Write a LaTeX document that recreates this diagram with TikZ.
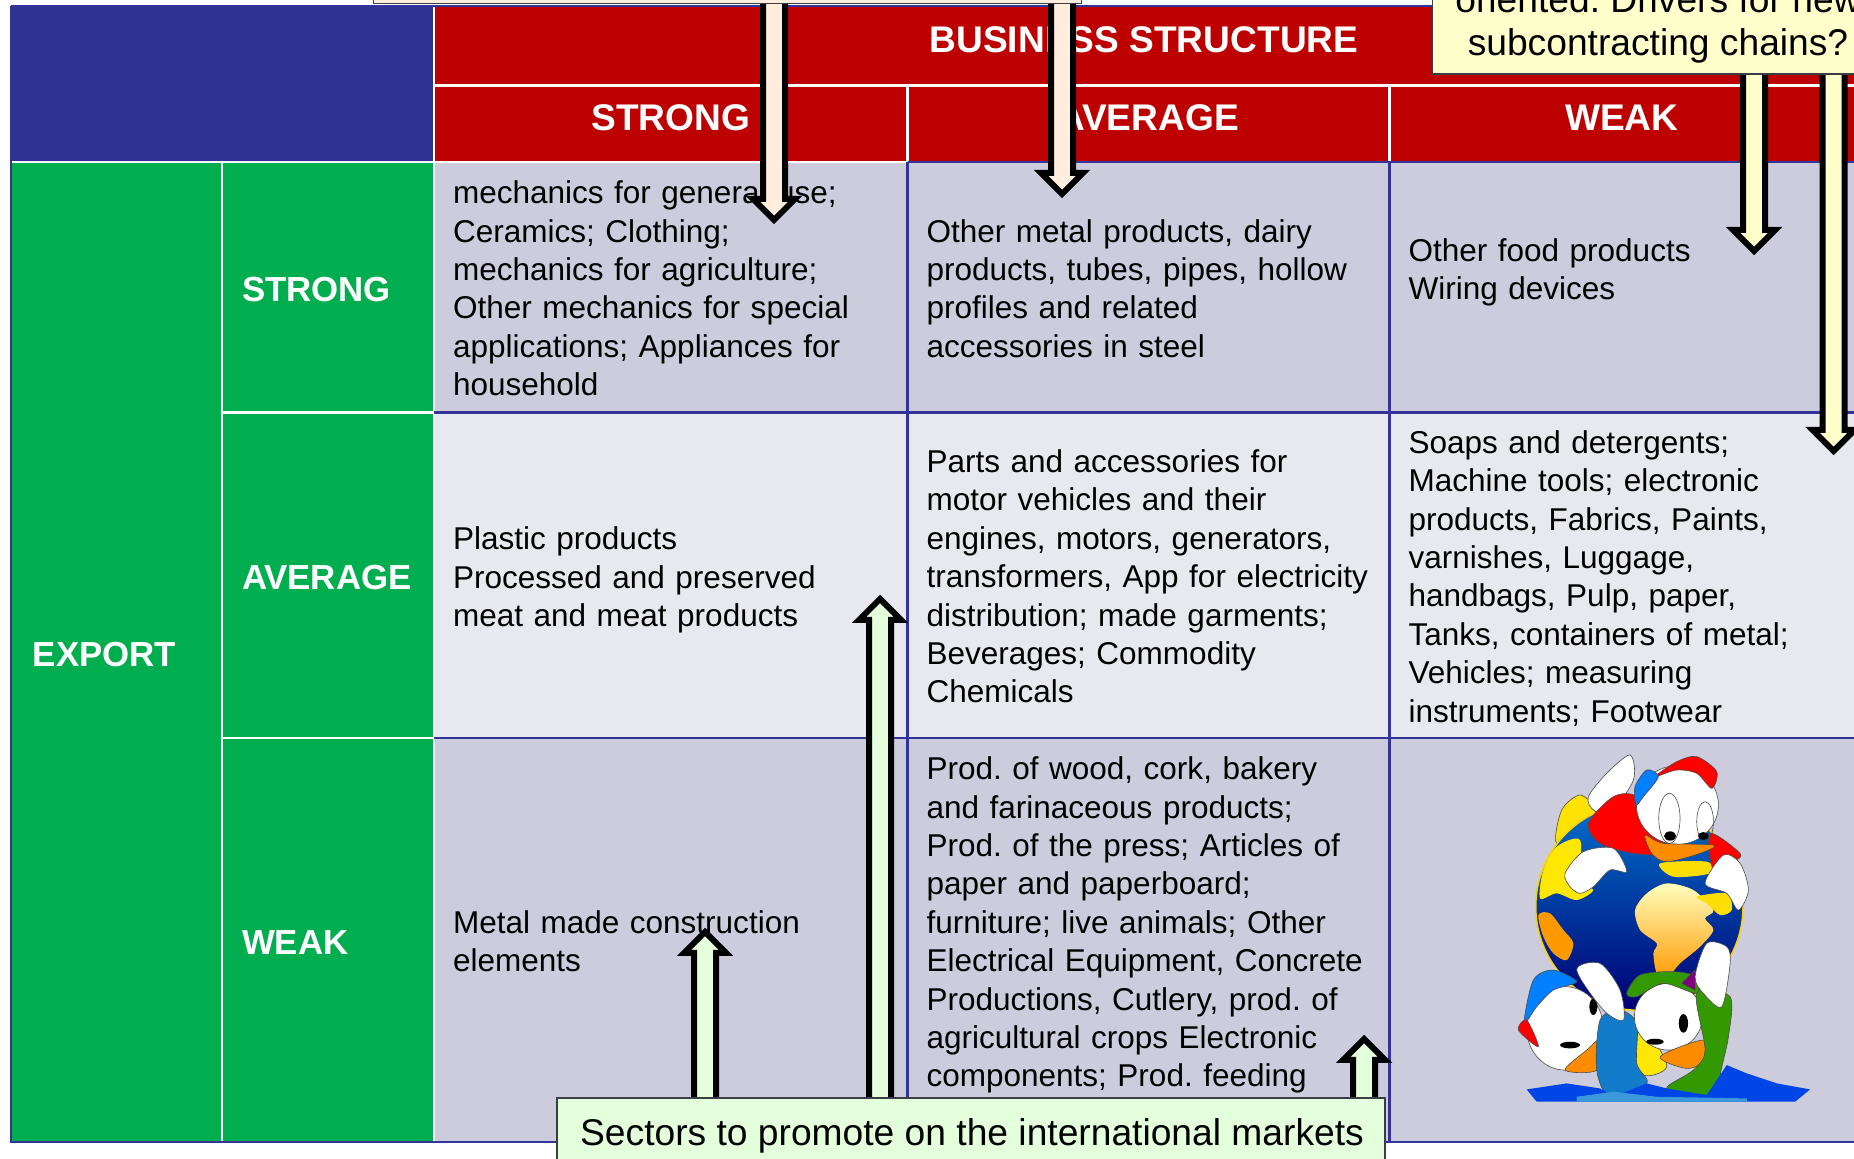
\documentclass[tikz,border=0pt]{standalone}
\usepackage{fontspec}
\setmainfont{Liberation Sans}
\usetikzlibrary{positioning,calc}
\definecolor{navy}{HTML}{2E3192}
\definecolor{rulenavy}{HTML}{333399}
\definecolor{headred}{HTML}{BD0000}
\definecolor{exportgreen}{HTML}{00AE4F}
\definecolor{rowdark}{HTML}{CDCCDD}
\definecolor{rowlight}{HTML}{E8E9EF}
\definecolor{notetan}{HTML}{FFEEDD}
\definecolor{noteyellow}{HTML}{FFFFCC}
\definecolor{notegreen}{HTML}{E3FFDB}
\pgfdeclarelayer{front}
\pgfsetlayers{main,front}
\tikzset{
        gridbox/.style 2 args={
		minimum width={#1*0.5pt},
		minimum height={#2*0.5pt},
		inner sep=0pt,
		outer sep=0pt,
	  },
        headcell/.style 2 args={gridbox={#1}{#2}, fill=headred, text=white, text height=13.3pt, text depth=6.2pt, font=\fontsize{18.55}{22}\selectfont\bfseries},
        sidecell/.style 2 args={gridbox={#1}{#2}, fill=exportgreen, text=white, inner xsep=10pt, text width={(#1-40)*0.5pt}, text height=14.4pt, text depth=0pt, align=left, font=\fontsize{17.4}{21}\selectfont\bfseries},
        datacell/.style n args={3}{gridbox={#1}{#2}, fill=#3, inner xsep=9.5pt, text width={(#1-38)*0.5pt}, align=left, font=\fontsize{15.76}{19.2}\selectfont,
		execute at begin node={\rule{0pt}{18.2pt}}, execute at end node={\strut}},
        note/.style={draw=black!85!cyan, line width=0.8pt, inner sep=0pt, outer sep=0pt},
        notetext/.style={font=\fontsize{18.6}{21.5}\selectfont, align=center, inner sep=0pt, anchor=base},
        blueline/.style={draw=rulenavy, line width=1.4pt},
        whiteline/.style={draw=white, line width=1.4pt},
        blockdown/.style={draw=black, line width=3pt, fill=#1, to path={
		-- ++(-11,0) -- ($(\tikztotarget)+(-11,-21)$) -- ($(\tikztotarget)+(-21,-21)$) -- (\tikztotarget)
		-- ($(\tikztotarget)+(21,-21)$) -- ($(\tikztotarget)+(11,-21)$) -- ($(\tikztostart)+(11,0)$) -- cycle}},
        blockup/.style={draw=black, line width=3pt, fill=#1, to path={
		-- ++(-11,0) -- ($(\tikztotarget)+(-11,21)$) -- ($(\tikztotarget)+(-21,21)$) -- (\tikztotarget)
		-- ($(\tikztotarget)+(21,21)$) -- ($(\tikztotarget)+(11,21)$) -- ($(\tikztostart)+(11,0)$) -- cycle}},
        duckpart/.style={draw=black!70, line width=0.3pt, fill=#1},
    }

\begin{document}
\frenchspacing
\begin{tikzpicture}[x=0.5pt, y=-0.5pt, node distance=0pt]
    \useasboundingbox (0,0) rectangle (1854,1159);
    \clip (0,0) rectangle (1854,1159);

    % header
    \node [gridbox={423}{156}, fill=navy, anchor=north west] (corner) at (11,6) {};
    \node [headcell={1420}{79.5}, anchor=north west] (business) at (corner.north east) {BUSINESS STRUCTURE};
    \node [headcell={473.5}{76.5}, anchor=north west] (colstrong) at (business.south west) {STRONG};
    \node [headcell={482}{76.5}, right=of colstrong] (colaverage) {AVERAGE};
    \node [headcell={464.5}{76.5}, right=of colaverage] (colweak) {WEAK};

    % side
    \node [sidecell={211}{980}, anchor=north west] (export) at (corner.south west) {\kern1pt EXPORT};
    \node [sidecell={212}{250.5}, anchor=north west] (rowstrong) at (export.north east) {STRONG};
    \node [sidecell={212}{325.5}, below=of rowstrong] (rowaverage) {AVERAGE};
    \node [sidecell={212}{404}, below=of rowaverage] (rowweak) {WEAK};

    % first row
    \node [datacell={473.5}{250.5}{rowdark}, right=of rowstrong] (c11) {mechanics for general use;\\Ceramics; Clothing;\\mechanics for agriculture;\\Other mechanics for special\\applications; Appliances for\\household};
    \node [datacell={482}{250.5}{rowdark}, right=of c11] (c12) {Other metal products, dairy\\products, tubes, pipes, hollow\\profiles and related\\accessories in steel};
    \node [datacell={464.5}{250.5}{rowdark}, right=of c12] (c13) {Other food products\\Wiring devices\\~};
    % second row
    \node [datacell={473.5}{325.5}{rowlight}, below=of c11] (c21) {\rule{0pt}{18.6pt}Plastic products\\Processed and preserved\\meat and meat products};
    \node [datacell={482}{325.5}{rowlight}, right=of c21] (c22) {Parts and accessories for\\motor vehicles and their\\engines, motors, generators,\\transformers, App for electricity\\distribution; made garments;\\Beverages; Commodity\\Chemicals};
    \node [datacell={464.5}{325.5}{rowlight}, right=of c22] (c23) {Soaps and detergents;\\Machine tools; electronic\\products, Fabrics, Paints,\\varnishes, Luggage,\\handbags, Pulp, paper,\\Tanks, containers of metal;\\Vehicles; measuring\\instruments; Footwear};
    % third row
    \node [datacell={473.5}{404}{rowdark}, below=of c21] (c31) {Metal made construction\\elements};
    \node [datacell={482}{404}{rowdark}, right=of c31] (c32) {Prod. of wood, cork, bakery\\and farinaceous products;\\Prod. of the press; Articles of\\paper and paperboard;\\furniture; live animals; Other\\Electrical Equipment, Concrete\\Productions, Cutlery, prod. of\\agricultural crops Electronic\\components; Prod. feeding\\~};
    \node [datacell={464.5}{404}{rowdark}, right=of c32] (c33) {};

    % white rules
    \draw [whiteline] (corner.south west) -- (c11.north east);
    \draw [whiteline] (business.south west) -- (business.south east);
    \draw [whiteline] (business.north west) -- (c31.south west);
    \draw [whiteline] (export.north east) -- (export.south east);
    \draw [whiteline] (rowstrong.south west) -- (rowstrong.south east);
    \draw [whiteline] (rowaverage.south west) -- (rowaverage.south east);
    \draw [whiteline] (colstrong.north east) -- (colstrong.south east);
    \draw [whiteline] (colaverage.north east) -- (colaverage.south east);
    % blue rules
    \draw [blueline] (corner.north west) -- (business.north east);
    \draw [blueline] (corner.north west) -- (export.south west) -- (c33.south east);
    \draw [blueline] (c12.north west) -- (c13.north east);
    \draw [blueline] (c11.south west) -- (c13.south east);
    \draw [blueline] (c21.south west) -- (c23.south east);
    \draw [blueline] (c12.north west) -- (c32.south west);
    \draw [blueline] (c13.north west) -- (c33.south west);

    % globe and ducks
    \begin{scope}[shift={(1380,730)}, x=0.1667pt, y=-0.1667pt]
      \draw [duckpart=yellow!85!orange] plot[smooth cycle] coordinates {(530,340) (545,240) (600,195) (645,240) (620,320)};
      \draw [draw=yellow!70!orange, line width=0.8pt, top color=cyan!55!blue!80!black, bottom color=blue!45!black] (778,530) circle (311);
      \fill [yellow!90!orange] plot[smooth cycle] coordinates {(600,330) (530,350) (490,420) (480,505) (530,490) (590,510) (640,480) (600,450)};
      \fill [orange!80!yellow] plot[smooth cycle] coordinates {(475,555) (510,550) (550,600) (580,640) (560,690) (520,670) (490,620)};
      \fill [top color=yellow!25, bottom color=orange!80!yellow] plot[smooth cycle] coordinates {(765,540) (800,490) (860,460) (940,480) (1000,540) (975,565) (1000,600) (960,650) (900,700) (860,745) (830,730) (820,670) (830,640) (780,600)};
      \fill [yellow!80!orange] plot[smooth cycle] coordinates {(840,400) (980,395) (990,430) (880,440)};
      \fill [yellow!80!orange] plot[smooth cycle] coordinates {(950,500) (1040,490) (1055,540) (1020,555) (980,520)};
      % top duck
      \draw [duckpart=white] plot[smooth cycle] coordinates {(625,200) (680,130) (750,75) (760,150) (690,250) (640,240)};
      \draw [duckpart=red] plot[smooth cycle] coordinates {(625,280) (700,200) (770,200) (830,300) (870,370) (760,370) (660,340)};
      \draw [duckpart=red] plot[smooth cycle] coordinates {(990,310) (1080,370) (1060,395) (1000,420)};
      \draw [duckpart=white] (892,225) ellipse (123 and 118);
      \draw [duckpart=red] plot[smooth cycle] coordinates {(825,140) (890,95) (950,80) (1010,125) (995,175) (950,130) (890,120)};
      \draw [duckpart=blue!50!cyan] plot[smooth cycle] coordinates {(765,170) (800,120) (835,140) (790,200) (768,225)};
      \draw [black!70, line width=0.3pt] (868,265) ellipse (32 and 75) (975,275) ellipse (25 and 60);
      \draw [duckpart=orange!90!yellow] plot[smooth cycle] coordinates {(795,315) (850,340) (1000,345) (960,370) (860,395) (815,370)};
      \fill [black] (870,318) ellipse (18 and 14) (970,318) ellipse (16 and 12);
      \draw [duckpart=white] plot[smooth cycle] coordinates {(555,430) (610,365) (700,355) (740,425) (690,420) (640,470) (600,490) (570,470)};
      \draw [duckpart=white] plot[smooth cycle] coordinates {(975,460) (1030,375) (1080,400) (1105,480) (1075,540) (1040,490)};
      % lower ducks
      \draw [duckpart=yellow!90!orange] plot[smooth cycle] coordinates {(740,880) (800,900) (860,1010) (780,1030)};
      \draw [duckpart=white] (555,895) ellipse (115 and 125);
      \draw [duckpart=blue!50!cyan] plot[smooth cycle] coordinates {(432,880) (460,750) (520,720) (590,755) (520,780) (470,830)};
      \draw [duckpart=red] plot[smooth cycle] coordinates {(415,900) (440,870) (475,950)};
      \draw [duckpart=orange!90!yellow] plot[smooth cycle] coordinates {(555,1020) (620,960) (660,930) (650,1020)};
      \fill [black] (570,945) ellipse (30 and 10) (640,830) ellipse (12 and 25);
      \draw [duckpart=cyan!60!blue] plot[smooth cycle] coordinates {(660,870) (720,840) (770,880) (770,1000) (800,1060) (690,1100) (650,1020)};
      \draw [duckpart=white] plot[smooth cycle] coordinates {(590,720) (660,700) (720,780) (730,870) (670,840)};
      \draw [duckpart=white] (865,860) ellipse (102 and 100);
      \draw [duckpart=green!50!black!80!yellow] plot[smooth cycle] coordinates {(740,790) (780,735) (880,725) (950,740) (950,790) (850,760) (770,800)};
      \draw [duckpart=violet] plot coordinates {(905,760) (945,720) (945,780) (905,760)};
      \draw [duckpart=orange!90!yellow] plot[smooth cycle] coordinates {(840,980) (970,930) (975,990) (920,1015)};
      \fill [black] (910,880) ellipse (14 and 28) (825,935) ellipse (26 and 9);
      \draw [duckpart=green!50!black!80!yellow] plot[smooth cycle] coordinates {(950,790) (1050,800) (1045,920) (1020,1040) (1040,1060) (980,1095) (860,1075) (940,1020) (975,960)};
      \draw [duckpart=white] plot[smooth cycle] coordinates {(945,740) (980,640) (1040,650) (1050,700) (1025,830) (970,790)};
      % water
      \fill [blue!70!cyan!90!black] (440,1078) -- (560,1060) -- (660,1075) -- (700,1100) -- (800,1060) -- (860,1075) -- (980,1095) -- (1040,1005) -- (1100,1030) -- (1190,1060) -- (1290,1078) -- (1245,1115) -- (470,1115) -- cycle;
      \fill [cyan!70!blue!80] (590,1100) -- (700,1085) -- (830,1100) -- (1100,1105) -- (1100,1115) -- (590,1115) -- cycle;
    \end{scope}

    % notes, above the arrows
    \begin{pgfonlayer}{front}
      \node [note, fill=notetan, minimum width=354pt, minimum height=60pt, anchor=south west] (notetop) at (373.5,3.5) {};
      \node [note, fill=noteyellow, minimum width=240pt, minimum height=100pt, anchor=south west] (noteright) at (1432.5,74) {};
      \node [notetext] (noterighttext) at (1658,55.5) {oriented. Drivers for new\\subcontracting chains?};
      \node [note, fill=notegreen, minimum width=414pt, minimum height=40pt, anchor=north west] (notebottom) at (557,1098) {};
      \node [notetext] (notebottomtext) at (972,1145) {Sectors to promote on the international markets};
    \end{pgfonlayer}

    % arrows
    \coordinate (tipa) at (774,220);
    \coordinate (tipb) at (1062,194);
    \coordinate (tipc) at (1754,251);
    \coordinate (tipd) at (1833.5,451);
    \coordinate (tipe) at (705,932);
    \coordinate (tipf) at (880,599);
    \coordinate (tipg) at (1364,1039);
    \draw [blockdown=notetan] ([yshift=5pt]notetop.south -| tipa) to (tipa);
    \draw [blockdown=notetan] ([yshift=5pt]notetop.south -| tipb) to (tipb);
    \draw [blockdown=noteyellow] ([yshift=5pt]noteright.south -| tipc) to (tipc);
    \draw [blockdown=noteyellow] ([yshift=5pt]noteright.south -| tipd) to (tipd);
    \draw [blockup=notegreen] ([yshift=-5pt]notebottom.north -| tipe) to (tipe);
    \draw [blockup=notegreen] ([yshift=-5pt]notebottom.north -| tipf) to (tipf);
    \draw [blockup=notegreen] ([yshift=-5pt]notebottom.north -| tipg) to (tipg);
\end{tikzpicture}
\end{document}
